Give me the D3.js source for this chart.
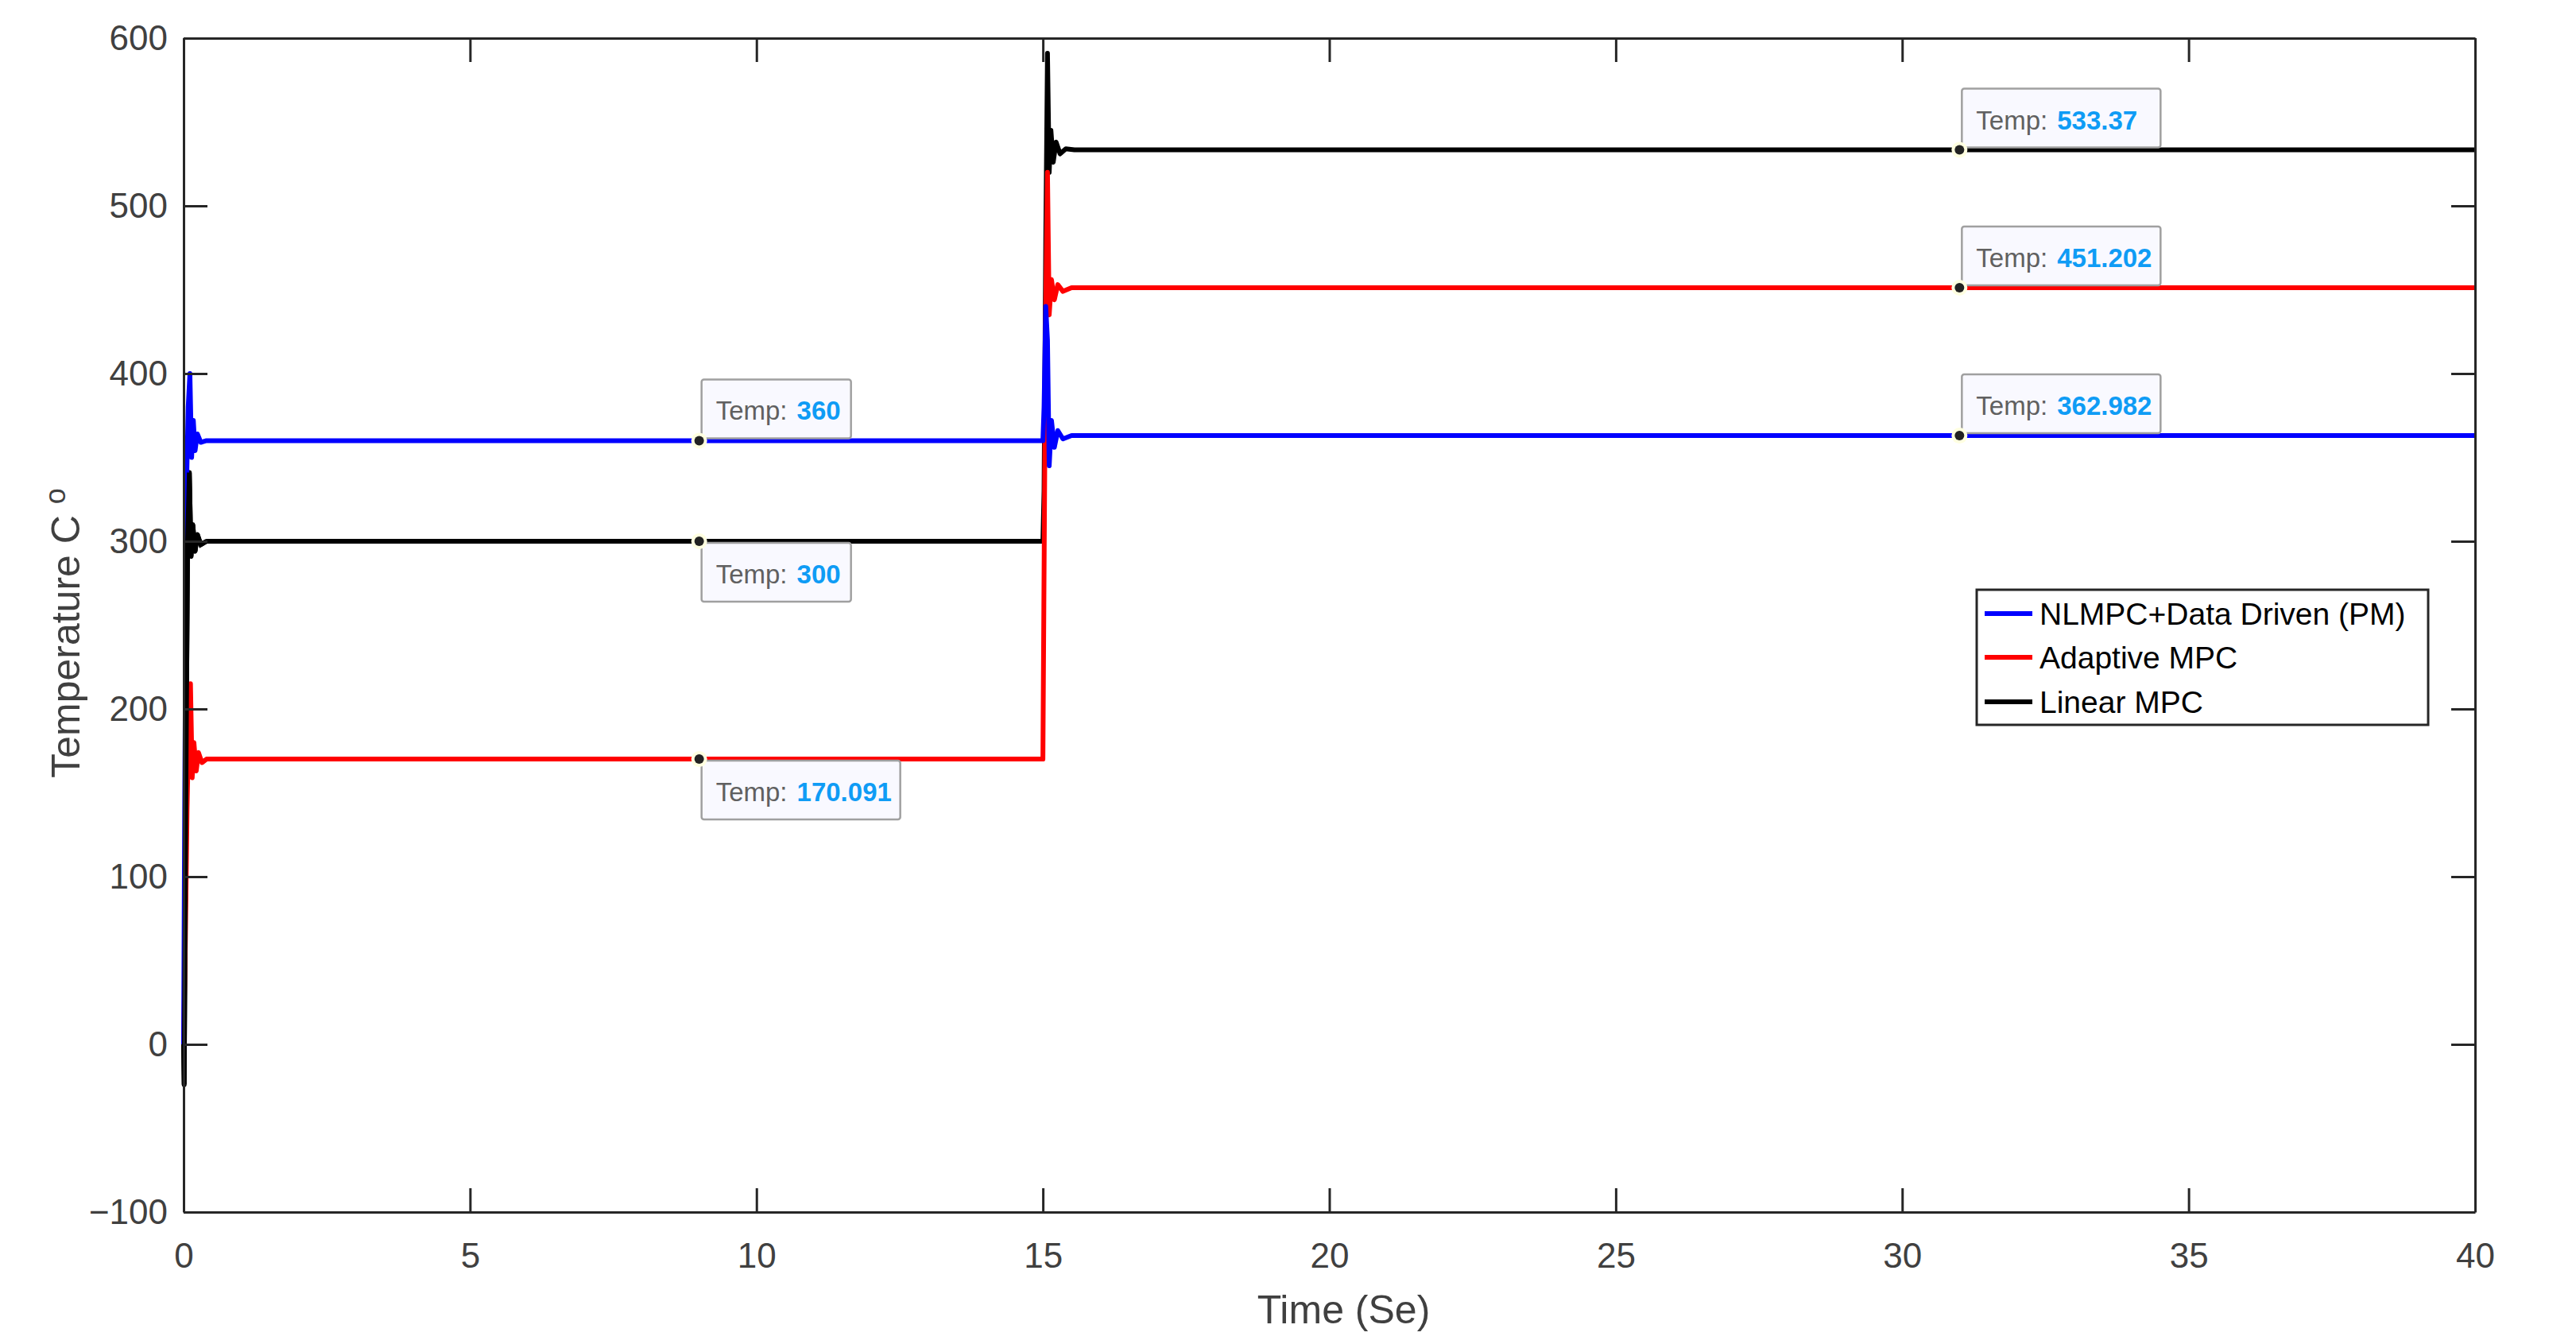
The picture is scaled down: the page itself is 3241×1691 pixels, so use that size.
<!DOCTYPE html>
<html>
<head>
<meta charset="utf-8">
<script src="https://cdn.jsdelivr.net/npm/d3@7"></script>
<style>
  body { margin: 0; background: #fff; }
  text { font-family: Arial, "Liberation Sans", sans-serif; }
</style>
</head>
<body>
<script>
// Data
let seriesNames = ["NLMPC+Data Driven (PM)", "Adaptive MPC", "Linear MPC"];
let seriesColors = ["#0000ff", "#ff0000", "#000000"];

let blueTime = [0, 0.02, 0.05, 0.08, 0.11, 0.14, 0.17, 0.2, 0.24, 0.3, 0.4, 15, 15.02, 15.05, 15.08, 15.11, 15.15, 15.2, 15.26, 15.35, 15.5, 40];
let blueTemp = [0, 150, 330, 380, 400, 350, 372, 354, 364, 359, 360, 360, 380, 440, 420, 345, 372, 356, 366, 361, 363, 362.982];

let redTime = [0, 0.03, 0.06, 0.09, 0.12, 0.15, 0.18, 0.22, 0.26, 0.32, 0.4, 15, 15.02, 15.05, 15.08, 15.11, 15.15, 15.2, 15.26, 15.35, 15.5, 40];
let redTemp = [0, 60, 140, 190, 215, 159, 180, 163, 174, 168, 170.091, 170.091, 280, 440, 520, 435, 456, 444, 453, 449, 451.2, 451.202];

let blackTime = [0, 0.01, 0.04, 0.07, 0.1, 0.13, 0.16, 0.2, 0.24, 0.3, 0.4, 15, 15.02, 15.05, 15.08, 15.11, 15.14, 15.18, 15.23, 15.3, 15.4, 15.55, 40];
let blackTemp = [0, -24, 150, 300, 341, 291, 310, 294, 304, 298, 300, 300, 330, 480, 591, 520, 545, 526, 538, 531, 534, 533.37, 533.37];

let xTicks = [0, 5, 10, 15, 20, 25, 30, 35, 40];
let yTicks = [-100, 0, 100, 200, 300, 400, 500, 600];

// data tips
let tipTime = [9, 9, 9, 31, 31, 31];
let tipValue = [360, 300, 170.091, 533.37, 451.202, 362.982];
let tipLabel = ["360", "300", "170.091", "533.37", "451.202", "362.982"];
let tipAbove = [true, false, false, true, true, true];

let W = 3241, H = 1691;
let m = { left: 231, right: 3114, top: 48, bottom: 1525 };

let svg = d3.select("body").append("svg")
  .attr("width", W).attr("height", H);

let x = d3.scaleLinear().domain([0, 40]).range([m.left, m.right]);
let y = d3.scaleLinear().domain([-100, 600]).range([m.bottom, m.top]);

// Series lines
let series = [
  { t: blueTime, v: blueTemp },
  { t: redTime, v: redTemp },
  { t: blackTime, v: blackTemp }
];
let line = d3.line().x(d => x(d[0])).y(d => y(d[1]));
[2, 1, 0].forEach(i => {
  let pts = series[i].t.map((t, k) => [t, series[i].v[k]]);
  svg.append("path")
    .attr("d", line(pts))
    .attr("fill", "none")
    .attr("stroke", seriesColors[i])
    .attr("stroke-width", 6)
    .attr("stroke-linejoin", "round");
});
// black start-up transient sits on top in the picture
svg.append("path")
  .attr("d", line(blackTime.map((t, k) => [t, blackTemp[k]]).slice(0, 11)))
  .attr("fill", "none").attr("stroke", "#000").attr("stroke-width", 6);

// Axes (box with mirrored ticks)
let axisColor = "#262626";
let fontSize = 44;
let gB = svg.append("g").attr("transform", "translate(0," + m.bottom + ")")
  .call(d3.axisBottom(x).tickValues(xTicks).tickSizeInner(-30).tickSizeOuter(0).tickPadding(22));
let gT = svg.append("g").attr("transform", "translate(0," + m.top + ")")
  .call(d3.axisTop(x).tickValues(xTicks).tickSizeInner(-30).tickSizeOuter(0).tickFormat(""));
let gL = svg.append("g").attr("transform", "translate(" + m.left + ",0)")
  .call(d3.axisLeft(y).tickValues(yTicks).tickSizeInner(-30).tickSizeOuter(0).tickPadding(20));
let gR = svg.append("g").attr("transform", "translate(" + m.right + ",0)")
  .call(d3.axisRight(y).tickValues(yTicks).tickSizeInner(-30).tickSizeOuter(0).tickFormat(""));
[gB, gT, gL, gR].forEach(g => {
  g.selectAll("path, line").attr("stroke", axisColor).attr("stroke-width", 3);
  g.selectAll("text").attr("fill", "#404040").style("font-size", fontSize + "px")
    .style("font-family", "Arial, 'Liberation Sans', sans-serif");
});
// tick labels sit outside even though ticks point inward
gB.selectAll(".tick text").attr("y", 30).attr("dy", "0.9em");
gL.selectAll(".tick text").attr("x", -20);

// Axis titles
svg.append("text")
  .attr("x", (m.left + m.right) / 2 + 18).attr("y", 1665)
  .attr("text-anchor", "middle").attr("fill", "#404040")
  .style("font-size", "50px").text("Time (Se)");
let yl = svg.append("text")
  .attr("transform", "translate(100," + ((m.top + m.bottom) / 2 + 10) + ") rotate(-90)")
  .attr("text-anchor", "middle").attr("fill", "#404040")
  .style("font-size", "50px");
yl.append("tspan").text("Temperature C ");
yl.append("tspan").attr("dy", "-0.5em").style("font-size", "36px").text("o");

// Data tips
tipTime.forEach((t, i) => {
  let px = x(t), py = y(tipValue[i]);
  let boxW = tipLabel[i].length > 3 ? 250 : 188;
  let boxH = 74;
  let by = tipAbove[i] ? py - boxH - 3 : py + 2;
  svg.append("rect")
    .attr("x", px + 3).attr("y", by)
    .attr("width", boxW).attr("height", boxH)
    .attr("rx", 3)
    .attr("fill", "#f9f9ff").attr("stroke", "#a0a0a0").attr("stroke-width", 2.5);
  let tx = svg.append("text")
    .attr("x", px + 21).attr("y", by + 51)
    .style("font-size", "33px");
  tx.append("tspan").attr("fill", "#606060").text("Temp:");
  tx.append("tspan").attr("dx", "12").attr("fill", "#0f9cf5")
    .attr("font-weight", "bold").text(tipLabel[i]);
  svg.append("circle").attr("cx", px).attr("cy", py).attr("r", 10).attr("fill", "#ffffe0");
  svg.append("circle").attr("cx", px).attr("cy", py).attr("r", 6).attr("fill", "#222");
});

// Legend
let lg = svg.append("g");
lg.append("rect")
  .attr("x", 2487).attr("y", 742).attr("width", 568).attr("height", 170)
  .attr("fill", "#fff").attr("stroke", axisColor).attr("stroke-width", 3);
let rowY = [772, 827, 883];
seriesNames.forEach((name, i) => {
  lg.append("line")
    .attr("x1", 2497).attr("x2", 2557).attr("y1", rowY[i]).attr("y2", rowY[i])
    .attr("stroke", seriesColors[i]).attr("stroke-width", 6);
  lg.append("text")
    .attr("x", 2566).attr("y", rowY[i] + 14)
    .attr("fill", "#000").style("font-size", "39px").text(name);
});
</script>
</body>
</html>
